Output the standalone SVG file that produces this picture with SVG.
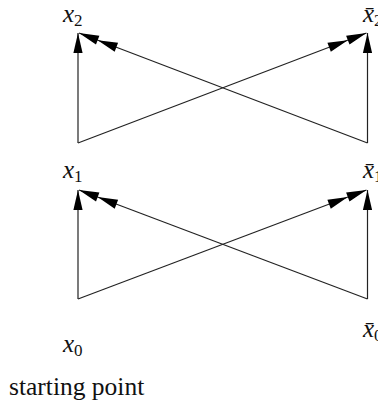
<svg xmlns="http://www.w3.org/2000/svg" width="378" height="405" viewBox="0 0 378 405">
<style>
.ln{stroke:#222;stroke-width:1.2;fill:none}
text{font-family:'Liberation Serif','Times New Roman',serif;fill:#111}
.m{font-style:italic;font-size:25px}
.s{font-size:17px;font-style:normal}
.t{font-size:25.5px}
</style>
<defs>
<marker id="a1" markerUnits="userSpaceOnUse" viewBox="-21 -6 22 12" refX="0" refY="0" markerWidth="22" markerHeight="12" orient="auto" overflow="visible">
<path d="M0,0 L-20,-4.6 L-20,4.6 Z" fill="#000"/>
</marker>
<marker id="a2" markerUnits="userSpaceOnUse" viewBox="-41 -6 42 12" refX="0" refY="0" markerWidth="42" markerHeight="12" orient="auto" overflow="visible">
<path d="M0,0 L-20,-4.8 L-20,4.8 Z M-20,0 L-40,-4.8 L-40,4.8 Z" fill="#000"/>
</marker>
</defs>
<g id="connectors">
<line class="ln" x1="78" y1="143" x2="78" y2="33" marker-end="url(#a1)"/>
<line class="ln" x1="367.5" y1="143" x2="367.5" y2="33" marker-end="url(#a1)"/>
<line class="ln" x1="367.5" y1="143" x2="79" y2="33" marker-end="url(#a2)"/>
<line class="ln" x1="78" y1="143" x2="366.5" y2="33" marker-end="url(#a2)"/>
<line class="ln" x1="78" y1="299" x2="78" y2="190" marker-end="url(#a1)"/>
<line class="ln" x1="367.5" y1="299" x2="367.5" y2="190" marker-end="url(#a1)"/>
<line class="ln" x1="367.5" y1="299" x2="79" y2="190" marker-end="url(#a2)"/>
<line class="ln" x1="78" y1="299" x2="366.5" y2="190" marker-end="url(#a2)"/>
</g>
<g id="x2"><text x="63" y="22" class="m">x<tspan class="s" dy="4">2</tspan></text></g>
<g id="xb2"><text x="363" y="22" class="m">x̄<tspan class="s" dy="4">2</tspan></text></g>
<g id="x1"><text x="63" y="178" class="m">x<tspan class="s" dy="4">1</tspan></text></g>
<g id="xb1"><text x="363" y="178" class="m">x̄<tspan class="s" dy="4">1</tspan></text></g>
<g id="x0"><text x="63" y="352" class="m">x<tspan class="s" dy="4">0</tspan></text></g>
<g id="xb0"><text x="363" y="337" class="m">x̄<tspan class="s" dy="4">0</tspan></text></g>
<g id="label"><text x="9" y="395" class="t">starting point</text></g>
</svg>
